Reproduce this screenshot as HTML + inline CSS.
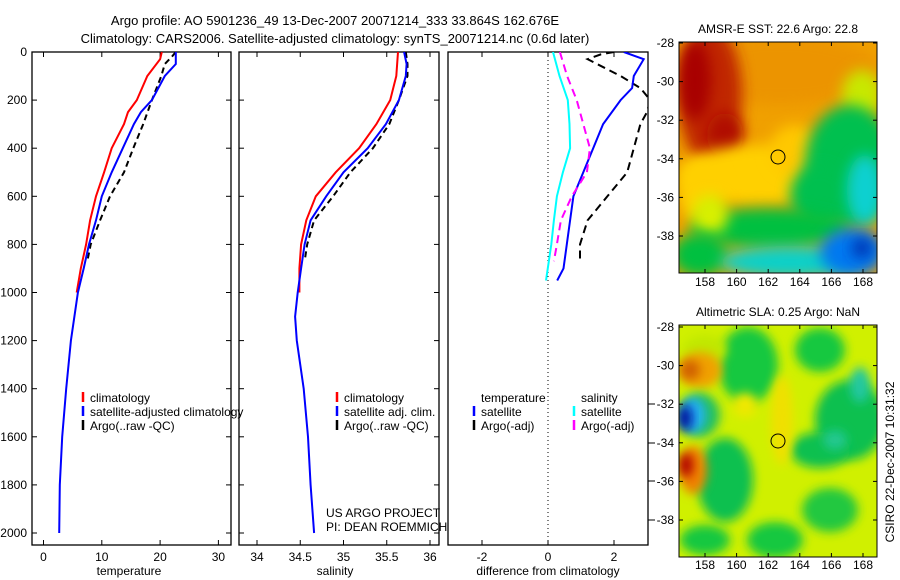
<!DOCTYPE html>
<html><head><meta charset="utf-8"><style>
body{margin:0;background:#fff}
svg{display:block;font-family:"Liberation Sans",sans-serif}
text{fill:#000}
</style></head><body>
<svg id="fig" width="900" height="580" viewBox="0 0 900 580">
<defs>
<clipPath id="c1"><rect x="32" y="52" width="199" height="493"/></clipPath>
<clipPath id="c2"><rect x="239" y="52" width="200" height="493"/></clipPath>
<clipPath id="c3"><rect x="448" y="52" width="200" height="493"/></clipPath>
<clipPath id="m1"><rect x="679" y="42" width="198" height="231"/></clipPath>
<clipPath id="m2"><rect x="679" y="325" width="198" height="232"/></clipPath>
<filter id="bl" x="-50%" y="-50%" width="200%" height="200%"><feGaussianBlur stdDeviation="7"/></filter>
<filter id="bl2" x="-50%" y="-50%" width="200%" height="200%"><feGaussianBlur stdDeviation="5"/></filter>
</defs>
<text x="335" y="25" font-size="13" text-anchor="middle">Argo profile: AO 5901236_49 13-Dec-2007 20071214_333 33.864S 162.676E</text>
<text x="335" y="43" font-size="13" text-anchor="middle">Climatology: CARS2006. Satellite-adjusted climatology: synTS_20071214.nc (0.6d later)</text>
<g id="axes"></g>
<g id="maps"></g>
</svg>
<script>
// ---------- data ----------
const tempClimDepth=[0,30,100,200,250,300,400,500,600,700,800,900,1000];
const tempClim=[20.3,20.0,17.8,16.0,14.5,13.8,11.7,10.4,9.0,8.0,7.3,6.4,5.7];
const tempSatDepth=[0,50,100,200,250,300,400,500,600,700,800,900,1000,1200,1400,1600,1800,2000];
const tempSat=[22.7,22.7,20.8,18.6,16.7,15.5,13.6,11.7,10.0,9.0,7.8,6.9,5.9,4.7,3.9,3.2,2.8,2.7];
const tempArgoDepth=[0,20,50,100,200,300,400,500,600,700,800,860];
const tempArgo=[22.7,22.0,20.8,20.2,18.6,17.1,15.4,13.8,11.4,9.7,8.1,7.6];
const salClimDepth=[0,100,200,300,400,500,600,700,800,900,1000];
const salClim=[35.63,35.61,35.54,35.38,35.18,34.91,34.68,34.57,34.51,34.49,34.49];
const salSatDepth=[0,50,100,200,300,400,500,600,700,800,900,1000,1100,1200,1400,1600,1800,2000];
const salSat=[35.70,35.73,35.72,35.64,35.49,35.28,35.0,34.8,34.62,34.55,34.51,34.47,34.44,34.46,34.54,34.59,34.62,34.66];
const salArgoDepth=[0,50,100,200,300,400,500,600,700,800,870];
const salArgo=[35.72,35.74,35.74,35.64,35.53,35.34,35.08,34.88,34.66,34.58,34.55];
const dTsatDepth=[0,30,100,150,200,300,400,500,600,700,800,900,950];
const dTsat=[2.3,2.9,2.6,2.55,2.2,1.67,1.37,1.07,0.77,0.67,0.57,0.47,0.28];
const dTargoDepth=[0,10,30,100,150,200,250,300,400,500,600,700,800,870];
const dTargo=[2.0,1.6,1.2,2.2,2.8,3.1,3.0,2.8,2.6,2.4,1.8,1.2,0.97,0.97];
const dSsatDepth=[0,100,200,300,400,500,600,700,800,950];
const dSsat=[0.15,0.35,0.6,0.65,0.67,0.45,0.27,0.18,0.1,-0.06];
const dSargoDepth=[0,100,200,300,400,500,600,700,800,870];
const dSargo=[0.36,0.58,0.87,1.07,1.27,1.18,0.72,0.39,0.27,0.18];
const depthTicks=[0,200,400,600,800,1000,1200,1400,1600,1800,2000];
const tempTicks=[0,10,20,30];
const salTicks=[34,34.5,35,35.5,36];
const salTickLabels=["34","34.5","35","35.5","36"];
const diffTicks=[-2,0,2];
const lonTicks=[158,160,162,164,166,168];
const latTicks=[-28,-30,-32,-34,-36,-38];

// ---------- scales ----------
const NS="http://www.w3.org/2000/svg";
const yD=d=>52+0.2405*d;
const xT=t=>43.5+5.83*t;
const xS=s=>257+86.5*(s-34);
const xF=v=>548+33*v;
const mX=lon=>705+15.8*(lon-158);
const mY1=lat=>43+19.3*(-28-lat);
const mY2=lat=>327+19.3*(-28-lat);
const ax=document.getElementById('axes');
function mk(tag,attrs,parent){const e=document.createElementNS(NS,tag);for(const k in attrs)e.setAttribute(k,attrs[k]);(parent||ax).appendChild(e);return e;}
function txt(x,y,s,size,anchor,parent){const e=mk('text',{x:x,y:y,'font-size':size,'text-anchor':anchor||'start'},parent);e.textContent=s;return e;}

function panel(x0,w,name){
  const g=mk('g',{});
  
  
  mk('rect',{x:x0,y:52,width:w,height:493,fill:'none',stroke:'#000','stroke-width':1.3},g);
  return g;
}
function line(g,clip,xs,ds,sx,color,dash,name){
  const pts=xs.map((v,i)=>sx(v).toFixed(1)+','+yD(ds[i]).toFixed(1)).join(' ');
  const p=mk('polyline',{points:pts,fill:'none',stroke:color,'stroke-width':2,'clip-path':'url(#'+clip+')'},g);
  if(dash)p.setAttribute('stroke-dasharray',dash);
  
  
}
function xticks(g,ticks,labels,sx){
  ticks.forEach((t,i)=>{
    const x=sx(t);
    mk('line',{x1:x,y1:545,x2:x,y2:540,stroke:'#000'},g);
    mk('line',{x1:x,y1:52,x2:x,y2:57,stroke:'#000'},g);
    const l=txt(x,561,labels[i],12,'middle',g);
    
    
  });
}
function yticks(g,x0,x1){
  depthTicks.forEach(d=>{
    mk('line',{x1:x0,y1:yD(d),x2:x0+5,y2:yD(d),stroke:'#000'},g);
    mk('line',{x1:x1,y1:yD(d),x2:x1-5,y2:yD(d),stroke:'#000'},g);
  });
}
function legend(g,x,y,color,label){
  mk('line',{x1:x,y1:y-10,x2:x,y2:y,stroke:color,'stroke-width':2.5},g);
  const t=txt(x+7,y,label,12,'start',g);
  
  
}

// Panel 1
const g1=panel(32,199,'temperature-panel');
yticks(g1,32,231);
depthTicks.forEach(d=>{const t=txt(27,yD(d)+4,String(d),12,'end',g1);

});
xticks(g1,tempTicks,tempTicks.map(String),xT);
line(g1,'c1',tempClim,tempClimDepth,xT,'#f00',null,'temp-climatology-line');
line(g1,'c1',tempArgo,tempArgoDepth,xT,'#000','6,4','temp-argo-line');
line(g1,'c1',tempSat,tempSatDepth,xT,'#00f',null,'temp-satellite-line');
txt(129,575,'temperature',12,'middle',g1);
legend(g1,83,402,'#f00','climatology');
legend(g1,83,416,'#00f','satellite-adjusted climatology');
legend(g1,83,430,'#000','Argo(..raw -QC)');

// Panel 2
const g2=panel(239,200,'salinity-panel');
yticks(g2,239,439);
xticks(g2,salTicks,salTickLabels,xS);
line(g2,'c2',salClim,salClimDepth,xS,'#f00',null,'sal-climatology-line');
line(g2,'c2',salArgo,salArgoDepth,xS,'#000','6,4','sal-argo-line');
line(g2,'c2',salSat,salSatDepth,xS,'#00f',null,'sal-satellite-line');
txt(335,575,'salinity',12,'middle',g2);
legend(g2,337,402,'#f00','climatology');
legend(g2,337,416,'#00f','satellite adj. clim.');
legend(g2,337,430,'#000','Argo(..raw -QC)');
txt(326,517,'US ARGO PROJECT',12,'start',g2);
txt(326,531,'PI: DEAN ROEMMICH',12,'start',g2);

// Panel 3
const g3=panel(448,200,'difference-panel');
xticks(g3,diffTicks,diffTicks.map(String),xF);
mk('line',{x1:548,y1:52,x2:548,y2:545,stroke:'#000','stroke-dasharray':'1,3'},g3);
line(g3,'c3',dTargo,dTargoDepth,xF,'#000','8,5','diff-temp-argo-line');
line(g3,'c3',dTsat,dTsatDepth,xF,'#00f',null,'diff-temp-satellite-line');
line(g3,'c3',dSargo,dSargoDepth,xF,'#f0f','8,5','diff-sal-argo-line');
line(g3,'c3',dSsat,dSsatDepth,xF,'#0ff',null,'diff-sal-satellite-line');
txt(548,575,'difference from climatology',12,'middle',g3);
txt(481,402,'temperature',12,'start',g3);
txt(581,402,'salinity',12,'start',g3);
legend(g3,474,416,'#00f','satellite');
legend(g3,474,430,'#000','Argo(-adj)');
legend(g3,574,416,'#0ff','satellite');
legend(g3,574,430,'#f0f','Argo(-adj)');
[404,443,481,520].forEach(y=>mk('line',{x1:648,y1:y,x2:655,y2:y,stroke:'#000'},g3));

// ---------- maps ----------
const mp=document.getElementById('maps');
function blobs(parent,list,filt){
  list.forEach(b=>mk('ellipse',{cx:b[0],cy:b[1],rx:b[2],ry:b[3],fill:b[4],filter:'url(#'+filt+')'},parent));
}
function mapFrame(y0,title,name){
  const g=mk('g',{},mp);
  
  
  txt(778,y0-9,title,12,'middle',g);
  return g;
}
const G1=mapFrame(42,'AMSR-E SST: 22.6 Argo: 22.8','sst-map');
const f1=mk('g',{'clip-path':'url(#m1)'},G1);
mk('rect',{x:679,y:42,width:198,height:231,fill:'#f0a000'},f1);
blobs(f1,[
 [780,70,100,35,'#ec9400'],
 [710,95,32,70,'#c02800'],[695,80,16,40,'#a80000'],[725,135,18,22,'#b01000'],
 [760,175,80,30,'#ffd000'],[700,190,22,30,'#ffd000'],[795,150,25,25,'#ffc800'],
 [862,95,20,25,'#c8e800'],
 [850,165,45,60,'#00c050'],[820,195,30,30,'#00c050'],[770,228,80,20,'#00c040'],
 [710,215,18,20,'#d8f000'],[700,255,28,22,'#00c040'],
 [790,262,70,16,'#10d0c8'],[865,190,18,35,'#10d0d0'],[852,252,32,24,'#0078f0'],[862,248,10,10,'#0030b0']
],'bl');
mk('circle',{cx:778,cy:157,r:7,fill:'none',stroke:'#000'},G1);

const G2=mapFrame(325,'Altimetric SLA: 0.25 Argo: NaN','sla-map');
const f2=mk('g',{'clip-path':'url(#m2)'},G2);
mk('rect',{x:679,y:325,width:198,height:232,fill:'#d0f000'},f2);
blobs(f2,[
 [748,365,30,38,'#18c840'],[820,350,25,22,'#18c840'],[850,420,35,40,'#10c050'],[820,450,30,18,'#10c050'],
 [860,385,10,18,'#20c8a0'],[835,440,12,10,'#20c890'],
 [725,480,28,42,'#10c050'],[830,510,28,22,'#20c840'],[775,540,28,18,'#18c840'],[705,540,25,15,'#18c840'],
 [705,350,22,15,'#c0e800'],
 [700,370,22,18,'#f0a000'],[690,370,10,10,'#d06000'],
 [700,415,20,22,'#20c060'],[693,415,13,18,'#20b0f0'],[685,418,7,13,'#0010a0'],
 [693,470,14,24,'#f08000'],[686,465,7,12,'#b00000'],
 [782,420,11,45,'#f0e000'],[745,405,12,12,'#f0e800']
],'bl2');
mk('circle',{cx:778,cy:441,r:7,fill:'none',stroke:'#000'},G2);

[[42,231,mY1,286],[325,232,mY2,569]].forEach(([y0,h,sy,ly])=>{
  const g=mk('g',{},mp);
  
  
  mk('rect',{x:679,y:y0,width:198,height:h,fill:'none',stroke:'#000'},g);
  lonTicks.forEach(l=>{const x=mX(l);
    mk('line',{x1:x,y1:y0,x2:x,y2:y0+4,stroke:'#000'},g);
    mk('line',{x1:x,y1:y0+h,x2:x,y2:y0+h-4,stroke:'#000'},g);
    txt(x,ly,String(l),12,'middle',g);});
  latTicks.forEach(l=>{const y=sy(l);
    mk('line',{x1:679,y1:y,x2:683,y2:y,stroke:'#000'},g);
    mk('line',{x1:877,y1:y,x2:873,y2:y,stroke:'#000'},g);
    txt(674,y+4,String(l),12,'end',g);});
});
const ts=txt(0,0,'CSIRO 22-Dec-2007 10:31:32',12,'middle',mp);
ts.setAttribute('transform','translate(894,462) rotate(-90)');


</script>
</body></html>
